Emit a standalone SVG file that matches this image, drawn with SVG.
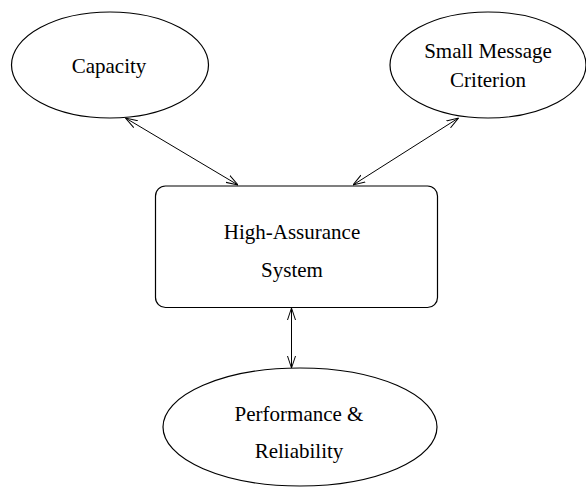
<svg xmlns="http://www.w3.org/2000/svg" width="586" height="487" viewBox="0 0 586 487">
<style>
.n{fill:#fff;stroke:#000;stroke-width:1.2}
.t{font-family:"Liberation Serif",serif;font-size:21px;fill:#000;text-anchor:middle}
.c{stroke:#000;stroke-width:1;fill:none;marker-start:url(#a);marker-end:url(#a)}
</style>
<defs>
<marker id="a" viewBox="0 0 12 10" refX="12" refY="5" markerWidth="12" markerHeight="10" markerUnits="userSpaceOnUse" orient="auto-start-reverse">
<path d="M0,1 L12,5 L0,9" fill="none" stroke="#000" stroke-width="1"/>
</marker>
</defs>
<rect width="586" height="487" fill="#fff"/>
<g id="capacity"><ellipse class="n" cx="110" cy="65" rx="98.5" ry="53"/><text class="t" x="109" y="73">Capacity</text></g>
<g id="small-message"><ellipse class="n" cx="488" cy="65" rx="98" ry="53"/><text class="t" x="488" y="58">Small Message</text><text class="t" x="488" y="87">Criterion</text></g>
<g id="system"><rect class="n" x="155.5" y="186" width="282" height="121.5" rx="10"/><text class="t" x="292" y="239">High-Assurance</text><text class="t" x="292" y="277">System</text></g>
<g id="performance"><ellipse class="n" cx="300" cy="427" rx="137" ry="59"/><text class="t" x="299" y="421">Performance &amp;</text><text class="t" x="299" y="458">Reliability</text></g>
<g id="connectors">
<line class="c" x1="125.5" y1="118" x2="238" y2="185"/>
<line class="c" x1="458.5" y1="118" x2="353" y2="185"/>
<line class="c" x1="291.5" y1="308" x2="291.5" y2="368"/>
</g>
</svg>
